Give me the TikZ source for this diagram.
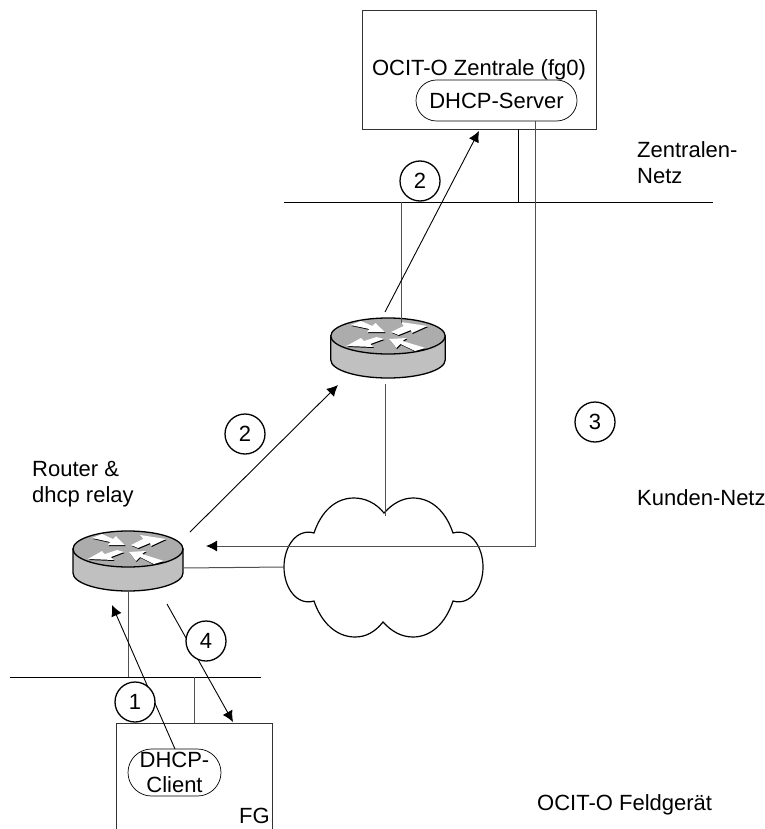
\documentclass[tikz,border=0pt]{standalone}
\usepackage{fontspec}
\setmainfont{Liberation Sans}
\usetikzlibrary{arrows.meta,positioning,calc,shapes.misc}
\definecolor{Link}{HTML}{505050}
\definecolor{RouterSide}{HTML}{C0C0C0}
\definecolor{RouterTop}{HTML}{ACACAC}

\tikzset{
    router/.pic={
        \path[draw=black,line width=1.3pt,fill=RouterSide] (-55,0) -- (-55,24) arc[start angle=180,end angle=360,x radius=55,y radius=-18] -- (55,0) -- cycle;
        \path[draw=black,line width=1.3pt,fill=RouterTop] (0,0) ellipse[x radius=55,y radius=18];
        \foreach \dx/\dy/\shade in {0.7/1/black,0/0/white}{
            \begin{scope}[shift={(\dx,\dy)}]
            \fill[\shade] (-36,-11) -- (-26,-15) -- (-15,-10) -- (-12,-13) -- (-3,-4) -- (-20,-4) -- (-18,-7) -- cycle;
            \fill[\shade] (3,-4) -- (15,-10) -- (12,-14) -- (38,-10) -- (23,-3) -- (22,-6) -- (10,-1) -- cycle;
            \fill[\shade] (-4,3) -- (-17,8) -- (-14,11) -- (-40,10) -- (-26,2) -- (-23,5) -- (-11,1) -- cycle;
            \fill[\shade] (36,12) -- (26,15) -- (12,8) -- (8,12) -- (1,3) -- (18,2) -- (14,5) -- cycle;
            \end{scope}
        }
        \coordinate (-top) at (0,0);
        \coordinate (-bottom) at (0,42);
        \coordinate (-east) at (55,19);
    }
}

\begin{document}
\begin{tikzpicture}[
    x=1pt,y=-1pt,
    box/.style={rectangle,draw=black!80,fill=white,line width=0.9pt,inner sep=0pt,font=\fontsize{22}{24}\selectfont},
    pill/.style={rounded rectangle,draw=black,fill=white,line width=0.7pt,inner sep=0pt,align=center,font=\fontsize{22}{24.5}\selectfont},
    lbl/.style={anchor=west,inner sep=0pt,align=left,font=\fontsize{22}{26}\selectfont},
    num/.style={circle,draw=black,fill=white,line width=1.3pt,minimum size=40pt,inner sep=0pt,font=\fontsize{22}{24}\selectfont},
    link/.style={draw=Link,line width=1pt},
    net/.style={draw=black,line width=0.9pt},
    flow/.style={draw=black,line width=0.9pt,-{Latex[length=11pt,width=11pt,color=black]}}
]
\clip (0,0) rectangle (764,829);
\fill[white] (0,0) rectangle (764,829);

% boxes
\node[box,minimum width=234pt,minimum height=119pt] (zentrale) at (479,69.5) {OCIT-O Zentrale (fg0)};
\node[pill,minimum width=161pt,minimum height=41pt] (server) at (496.5,100.5) {DHCP-Server};
\node[box,minimum width=156pt,minimum height=160pt] (fg) at (194,803) {};
\node[pill,minimum width=93pt,minimum height=47pt] (client) at (174.5,772.5) {DHCP-\\Client};
\node[lbl] (fglabel) at (239,816) {FG};

% networks
\coordinate (znetw) at (284,202);
\coordinate (znete) at (713,202);
\coordinate (fnetw) at (10,677);
\coordinate (fnete) at (261,677);
\draw[net] (znetw) -- (znete);
\draw[net] (fnetw) -- (fnete);

% cloud
\coordinate (notch) at (384,513);
\coordinate (cloudw) at (284,567);
\draw[draw=black,line width=1.2pt] (notch)
    .. controls (393,503) and (403,498) .. (413,498)
    .. controls (432,498) and (446,512) .. (453,533)
    .. controls (470,528) and (483,546) .. (483,567)
    .. controls (483,588) and (470,606) .. (453,601)
    .. controls (446,622) and (432,637) .. (413,637)
    .. controls (402,637) and (392,632) .. (383,622)
    .. controls (375,632) and (366,637) .. (355,637)
    .. controls (336,637) and (321,622) .. (314,601)
    .. controls (297,606) and (284,588) .. (284,567)
    .. controls (284,546) and (297,528) .. (314,533)
    .. controls (321,512) and (335,498) .. (354,498)
    .. controls (365,498) and (376,503) .. (384,513) -- cycle;

% routers
\pic[xscale=1.04] (rz) at (388,336) {router};
\pic (rf) at (128,549) {router};

% links
\coordinate (zdropa) at (518,202);
\coordinate (zdropb) at (401,202);
\coordinate (zrouter) at (401,323);
\coordinate (fdropa) at (128,677);
\coordinate (fdropb) at (194,677);
\coordinate (cloudtop) at (385,516);
\coordinate (rzlow) at (385,384);
\coordinate (srvdown) at (535,121);
\coordinate (corner) at (535,546);
\draw[net] (zentrale.south -| zdropa) -- (zdropa);
\draw[link] (zdropb) -- (zrouter);
\draw[link] (rzlow) -- (cloudtop);
\draw[link] (rf-east) -- (cloudw);
\draw[link] (rf-bottom) -- (fdropa);
\draw[link] (fdropb) -- (fg.north -| fdropb);

% messages
\coordinate (a1s) at (175,749);
\coordinate (a1e) at (112,605);
\coordinate (a2s) at (190,532);
\coordinate (a2e) at (338,385);
\coordinate (a2bs) at (385,312);
\coordinate (a2be) at (479,131);
\coordinate (a3e) at (206,546);
\coordinate (a4s) at (167,604);
\coordinate (a4e) at (233,722);
\draw[flow] (a1s) -- (a1e);
\draw[flow] (a2s) -- (a2e);
\draw[flow] (a2bs) -- (a2be);
\draw[flow,draw=Link,line width=1pt] (srvdown) -- (corner) -- (a3e);
\draw[flow] (a4s) -- (a4e);

% numbers
\node[num] (n1) at (135,702) {1};
\node[num] (n2) at (245,434) {2};
\node[num] (n2b) at (420,181) {2};
\node[num] (n3) at (595,422) {3};
\node[num] (n4) at (206,641) {4};

% labels
\node[lbl] (routerlabel) at (32,484) {Router \&\\dhcp relay};
\node[lbl] (znetlabel) at (637,163) {Zentralen-\\Netz};
\node[lbl] (knetlabel) at (637,498) {Kunden-Netz};
\node[lbl] (feldlabel) at (537,805) {OCIT-O Feldgerät};
\end{tikzpicture}
\end{document}
